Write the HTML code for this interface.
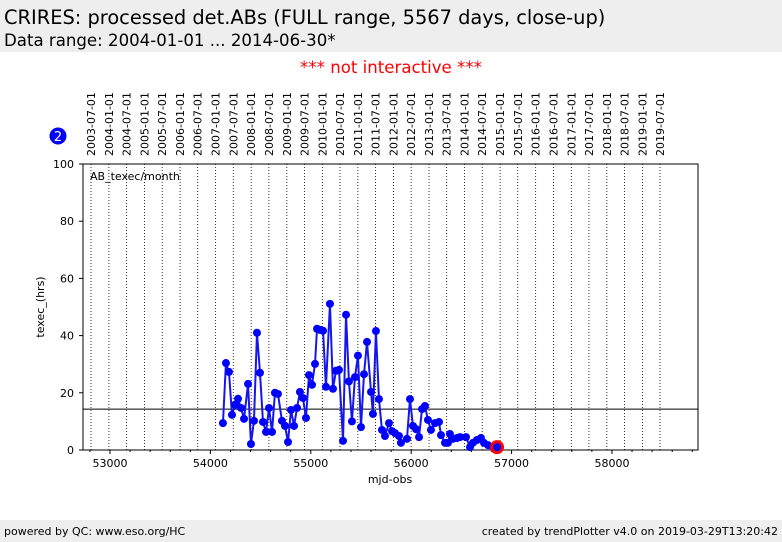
<!DOCTYPE html>
<html><head><meta charset="utf-8"><style>
body{margin:0;width:782px;height:542px;background:#fff;font-family:"DejaVu Sans","Liberation Sans",sans-serif;overflow:hidden;position:relative}
.hdr{position:absolute;left:0;top:0;width:782px;height:52px;background:#eeeeee}
.t1{position:absolute;left:4px;top:6px;font-size:19.4px;color:#000}
.t2{position:absolute;left:4px;top:31px;font-size:16.6px;color:#000}
.ni{position:absolute;left:0;width:782px;top:58px;text-align:center;color:#f00;font-size:16.6px}
.ftr{position:absolute;left:0;top:520px;width:782px;height:22px;background:#eeeeee;font-size:11px}
</style></head><body>
<div class="hdr">
<div class="t1">CRIRES: processed det.ABs (FULL range, 5567 days, close-up)</div>
<div class="t2">Data range: 2004-01-01 ... 2014-06-30*</div></div>
<div class="ni">*** not interactive ***</div>
<svg id="chart" width="782" height="542" style="position:absolute;left:0;top:0;font-family:'DejaVu Sans',sans-serif"></svg>
<div class="ftr"><span style="position:absolute;left:4px;top:5px">powered by QC: www.eso.org/HC</span><span style="position:absolute;right:4px;top:5px">created by trendPlotter v4.0 on 2019-03-29T13:20:42</span></div>
<script>
const mjd=[54125,54155,54185,54215,54245,54275,54305,54335,54375,54404,54434,54464,54494,54524,54554,54584,54614,54643,54673,54713,54743,54773,54803,54833,54863,54892,54922,54952,54982,55012,55042,55062,55092,55122,55151,55191,55221,55251,55281,55321,55351,55380,55410,55440,55470,55500,55530,55560,55600,55619,55649,55679,55709,55739,55779,55809,55839,55878,55898,55958,55988,56018,56048,56078,56108,56137,56167,56197,56237,56277,56297,56337,56366,56386,56416,56456,56486,56546,56586,56615,56655,56695,56725,56765,56815,56855];
const texec=[9.4,30.4,27.3,12.3,15.8,17.9,14.7,10.9,23.1,2.1,10.2,41,27,9.8,6.3,14.7,6.3,20,19.6,10.2,8.4,2.8,14,8.4,14.7,20.3,18.2,11.2,26.2,22.8,30.1,42.4,42,41.7,22.1,51.1,21.4,27.7,28,3.2,47.3,24,10,25.5,33,8,26.5,37.8,20.3,12.6,41.6,17.8,7,4.9,9.4,6.6,5.9,4.9,2.5,3.9,17.8,8.4,7.3,4.5,14.3,15.4,10.5,7,9.4,9.8,5.2,2.5,2.5,5.6,3.9,4.2,4.5,4.5,1,2.5,3.5,4.2,2.5,1.7,1,1];
const avgLine=14.3;
const yTicks=[0,20,40,60,80,100];
const xTicks=[53000,54000,55000,56000,57000,58000];
const dateLabels=[];for(let y=2003;y<=2019;y++){if(y>2003)dateLabels.push(y+"-01-01");dateLabels.push(y+"-07-01");}
const L=83,R=698,T=164,B=450,X0=52731,X1=58857;
const X=m=>L+(m-X0)/(X1-X0)*(R-L), Y=v=>B-v/100*(B-T);
const toMjd=s=>{const[a,b,c]=s.split('-').map(Number);return Date.UTC(a,b-1,c)/86400000+40587;};
const D0=toMjd("2003-07-01"),D1=toMjd("2019-07-01");
const XD=m=>91+(m-D0)/(D1-D0)*569;
const svg=document.getElementById('chart');const NS="http://www.w3.org/2000/svg";
function mk(t,a,p){const e=document.createElementNS(NS,t);for(const k in a)e.setAttribute(k,a[k]);(p||svg).appendChild(e);return e;}
dateLabels.forEach(d=>{const x=XD(toMjd(d));
 const l=mk('line',{x1:x,x2:x,y1:T,y2:B,stroke:'#000','stroke-width':0.8,'stroke-dasharray':'1,2'});
 
 const t=mk('text',{x:0,y:0,transform:`translate(${x+4},156) rotate(-90)`,'font-size':11,fill:'#000'});t.textContent=d;
 });
const fr=mk('rect',{x:L,y:T,width:R-L,height:B-T,fill:'none',stroke:'#000','stroke-width':1});

yTicks.forEach(v=>{const y=Y(v);mk('line',{x1:L-4,x2:L,y1:y,y2:y,stroke:'#000'});
 const t=mk('text',{x:L-9,y:y+4,'text-anchor':'end','font-size':11});t.textContent=v;
 });
for(let m=52800;m<=58800;m+=200){const x=X(m);const maj=m%1000==0;mk('line',{x1:x,x2:x,y1:B,y2:B+(maj?4:2),stroke:'#000'});}
xTicks.forEach(m=>{const t=mk('text',{x:X(m),y:B+17,'text-anchor':'middle','font-size':11});t.textContent=m;
 });
const av=mk('line',{x1:L,x2:R,y1:Y(avgLine),y2:Y(avgLine),stroke:'#000','stroke-width':1});

const pl=mk('polyline',{points:mjd.map((m,i)=>X(m)+','+Y(texec[i])).join(' '),fill:'none',stroke:'#1515ee','stroke-width':2});

mjd.forEach((m,i)=>{const c=mk('circle',{cx:X(m),cy:Y(texec[i]),r:4,fill:'#0000ff'});
 });
const n=mjd.length-1;
const lp=mk('circle',{cx:X(mjd[n]),cy:Y(texec[n]),r:5.5,fill:'#0000ff',stroke:'#ff0000','stroke-width':3});

const lab=mk('text',{x:90,y:180,'font-size':11});lab.textContent='AB_texec/month';

const yt=mk('text',{x:0,y:0,transform:'translate(44,307) rotate(-90)','text-anchor':'middle','font-size':11});yt.textContent='texec_(hrs)';

const xt=mk('text',{x:390,y:483,'text-anchor':'middle','font-size':11});xt.textContent='mjd-obs';

const b=mk('circle',{cx:58,cy:136,r:8.5,fill:'#0000ff'});

const bt=mk('text',{x:58,y:141,'text-anchor':'middle','font-size':13,fill:'#fff'});bt.textContent='2';

</script></body></html>
